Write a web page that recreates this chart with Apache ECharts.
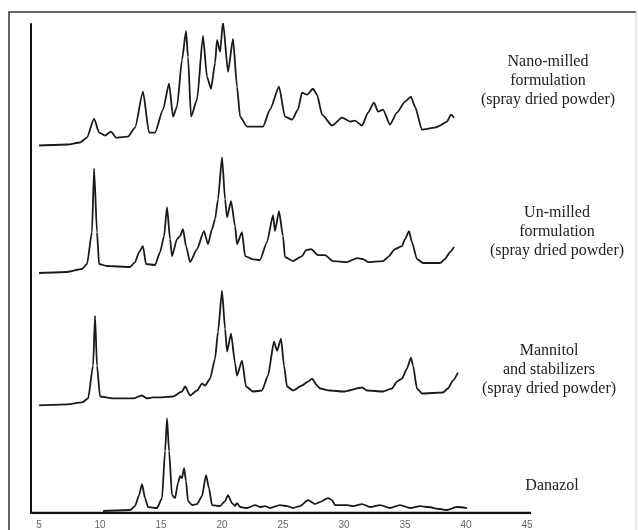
<!DOCTYPE html>
<html>
<head>
<meta charset="utf-8">
<title>XRD patterns</title>
<script src="https://cdn.jsdelivr.net/npm/echarts@6/dist/echarts.min.js"></script>
<style>
  html, body { margin: 0; padding: 0; background: #fff; }
  #chart { width: 638px; height: 530px; }
</style>
</head>
<body>
<div id="chart"></div>
<script>
// 2-theta tick labels along the bottom axis
const tickLabels = [5, 10, 15, 20, 25, 30, 35, 40, 45];

// Nano-milled formulation (spray dried powder)
const nanoTheta = [5.0, 7.30, 8.36, 8.93, 9.51, 9.92, 10.41, 10.90, 11.31, 12.30, 12.87, 13.52, 14.02, 14.51, 15.16, 15.66, 15.98, 16.31, 16.72, 17.05, 17.21, 17.46, 17.95, 18.44, 18.77, 19.10, 19.43, 19.59, 19.84, 20.08, 20.49, 20.90, 21.23, 21.48, 22.05, 23.36, 23.93, 24.67, 25.16, 25.74, 26.23, 26.56, 26.97, 27.46, 27.79, 28.20, 29.02, 29.84, 30.49, 30.90, 31.48, 31.97, 32.46, 32.79, 33.20, 33.77, 34.34, 35.00, 35.49, 35.82, 36.39, 37.46, 37.87, 38.44, 38.77, 39.02];
const nanoCounts = [0, 1, 3, 8, 27, 13, 10, 14, 8, 9, 18, 54, 13, 13, 36, 62, 29, 39, 86, 115, 89, 29, 46, 110, 69, 57, 83, 106, 94, 124, 74, 107, 59, 29, 19, 19, 36, 59, 29, 26, 36, 53, 51, 57, 51, 31, 20, 28, 24, 25, 20, 33, 43, 34, 36, 21, 33, 44, 49, 39, 16, 18, 20, 24, 31, 28];

// Un-milled formulation (spray dried powder)
const unmilledTheta = [5.0, 7.30, 8.52, 8.93, 9.34, 9.51, 9.75, 9.92, 10.57, 12.46, 12.87, 13.20, 13.52, 13.77, 14.51, 14.92, 15.25, 15.49, 15.74, 15.90, 16.31, 16.56, 16.80, 17.05, 17.38, 17.95, 18.52, 18.85, 19.18, 19.43, 19.67, 20.00, 20.25, 20.41, 20.74, 21.07, 21.23, 21.64, 21.89, 22.46, 23.11, 23.69, 24.18, 24.34, 24.67, 25.00, 25.16, 25.82, 26.56, 26.89, 27.30, 27.87, 28.44, 29.10, 30.25, 31.07, 31.56, 31.97, 33.20, 33.61, 34.18, 34.75, 35.00, 35.33, 35.57, 35.98, 36.48, 37.87, 38.28, 38.69, 39.02];
const unmilledCounts = [0, 1, 4, 9, 41, 105, 41, 9, 7, 6, 11, 21, 27, 9, 8, 21, 37, 66, 34, 17, 34, 37, 44, 27, 11, 24, 42, 29, 44, 54, 74, 116, 74, 56, 72, 47, 29, 41, 17, 14, 13, 31, 58, 42, 62, 37, 16, 12, 17, 23, 24, 18, 18, 12, 11, 15, 14, 11, 12, 16, 24, 27, 34, 42, 31, 14, 10, 10, 14, 21, 26];

// Mannitol and stabilizers (spray dried powder)
const mannitolTheta = [5.0, 7.30, 8.52, 9.02, 9.43, 9.59, 9.75, 10.00, 11.07, 12.70, 13.44, 13.85, 14.34, 14.92, 15.98, 16.72, 16.97, 17.38, 17.95, 18.36, 18.61, 19.02, 19.43, 19.67, 20.00, 20.25, 20.41, 20.74, 21.07, 21.23, 21.64, 21.97, 22.54, 23.28, 23.77, 24.26, 24.51, 24.84, 25.08, 25.33, 25.82, 26.56, 27.05, 27.38, 27.79, 28.03, 28.85, 29.92, 31.48, 31.89, 33.20, 33.93, 34.34, 34.75, 35.16, 35.49, 35.66, 35.98, 36.39, 38.11, 38.52, 38.93, 39.34];
const mannitolCounts = [0, 1, 3, 7, 40, 90, 40, 9, 7, 7, 10, 7, 8, 8, 9, 14, 19, 10, 15, 22, 20, 27, 47, 74, 115, 77, 54, 72, 42, 30, 45, 19, 14, 15, 30, 64, 55, 67, 40, 19, 15, 20, 24, 27, 20, 17, 15, 14, 18, 15, 14, 17, 24, 27, 37, 48, 40, 17, 12, 13, 17, 25, 33];

// Danazol
const danazolTheta = [10.25, 12.46, 12.87, 13.20, 13.44, 13.69, 13.93, 14.67, 15.08, 15.33, 15.49, 15.66, 15.90, 16.15, 16.39, 16.56, 16.72, 16.89, 17.05, 17.21, 17.54, 17.95, 18.36, 18.69, 18.93, 19.18, 19.84, 20.25, 20.49, 20.82, 21.07, 21.23, 21.48, 22.05, 22.70, 23.11, 23.52, 23.93, 24.75, 25.33, 25.82, 26.39, 27.05, 27.62, 28.03, 28.69, 29.02, 29.26, 30.25, 30.74, 31.48, 32.13, 32.95, 33.77, 34.59, 35.41, 36.23, 36.89, 37.87, 38.44, 39.26, 40.08];
const danazolCounts = [0, 1, 5, 16, 27, 13, 4, 3, 13, 60, 93, 60, 16, 13, 28, 35, 33, 43, 30, 10, 6, 7, 15, 36, 23, 6, 5, 10, 16, 8, 5, 8, 4, 3, 6, 4, 5, 3, 6, 5, 3, 5, 11, 7, 9, 13, 11, 6, 6, 5, 7, 4, 6, 3, 6, 3, 5, 4, 2, 1, 4, 3];

// Patterns are stacked one above another; each gets a vertical offset
const traces = [
  { name: 'Nano-milled formulation', theta: nanoTheta, counts: nanoCounts, offset: 369 },
  { name: 'Un-milled formulation', theta: unmilledTheta, counts: unmilledCounts, offset: 241 },
  { name: 'Mannitol and stabilizers', theta: mannitolTheta, counts: mannitolCounts, offset: 108 },
  { name: 'Danazol', theta: danazolTheta, counts: danazolCounts, offset: 2 }
];

const traceLabels = [
  { text: 'Nano-milled\nformulation\n(spray dried powder)', x: 548, y: 52 },
  { text: 'Un-milled\nformulation\n(spray dried powder)', x: 557, y: 203 },
  { text: 'Mannitol\nand stabilizers\n(spray dried powder)', x: 549, y: 341 },
  { text: 'Danazol', x: 552, y: 476 }
];

const chart = echarts.init(document.getElementById('chart'), null, { renderer: 'canvas' });

const series = traces.map(t => ({
  name: t.name,
  type: 'line',
  data: t.theta.map((th, i) => [th, t.counts[i] + t.offset]),
  showSymbol: false,
  smooth: 0.2,
  smoothMonotone: 'x',
  lineStyle: { color: '#1a1a1a', width: 1.8 },
  silent: true,
  z: 3
}));

// bottom axis rule
series.push({
  type: 'line',
  data: [[4.34, 0], [45.33, 0]],
  showSymbol: false,
  lineStyle: { color: '#111', width: 2.5 },
  silent: true,
  z: 4
});

chart.setOption({
  animation: false,
  backgroundColor: '#fff',
  grid: { left: 31, right: 107, top: 24, bottom: 15, containLabel: false },
  xAxis: {
    type: 'value',
    min: 4.34,
    max: 45.33,
    axisLine: { show: false },
    axisTick: { show: false },
    splitLine: { show: false },
    axisLabel: {
      customValues: tickLabels,
      color: '#666',
      fontSize: 10,
      fontFamily: 'Liberation Sans, Arial, sans-serif',
      margin: 7
    }
  },
  yAxis: {
    type: 'value',
    min: 0,
    max: 491,
    axisLine: { show: true, lineStyle: { color: '#111', width: 2 } },
    axisTick: { show: false },
    axisLabel: { show: false },
    splitLine: { show: false }
  },
  series: series,
  graphic: [
    {
      type: 'polyline',
      shape: { points: [[9, 540], [9, 12], [636, 12]] },
      style: { stroke: '#333', lineWidth: 1.5, fill: null },
      silent: true
    },
    {
      type: 'line',
      shape: { x1: 636, y1: 12, x2: 636, y2: 540 },
      style: { stroke: '#ccc', lineWidth: 1 },
      silent: true
    }
  ].concat(traceLabels.map(l => ({
    type: 'text',
    x: l.x, y: l.y,
    style: {
      text: l.text,
      x: 0, y: 0,
      align: 'center',
      verticalAlign: 'top',
      fill: '#222',
      font: '16px "Liberation Serif", "Times New Roman", serif',
      lineHeight: 19
    },
    silent: true
  })))
});
</script>
</body>
</html>
